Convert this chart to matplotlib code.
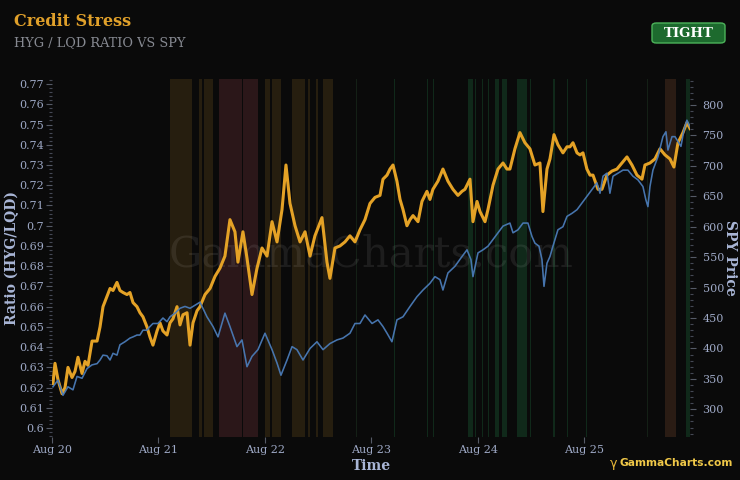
import matplotlib
matplotlib.use('Agg')
import matplotlib.pyplot as plt
from matplotlib.patches import FancyBboxPatch
from matplotlib.ticker import MultipleLocator, FuncFormatter

# ---------------- data (time in years since Aug 2020) ----------------
ratio_t = [0.009, 0.028, 0.056, 0.094, 0.122, 0.150, 0.188, 0.216, 0.244, 0.282,
           0.310, 0.338, 0.376, 0.423, 0.451, 0.479, 0.516, 0.545, 0.573, 0.610,
           0.638, 0.667, 0.704, 0.732, 0.761, 0.798, 0.826, 0.854, 0.892, 0.920,
           0.948, 0.986, 1.014, 1.042, 1.080, 1.108, 1.136, 1.174, 1.202, 1.230,
           1.268, 1.296, 1.324, 1.362, 1.390, 1.437, 1.484, 1.531, 1.577, 1.624,
           1.671, 1.718, 1.746, 1.793, 1.831, 1.878, 1.925, 1.972, 2.019, 2.066,
           2.113, 2.160, 2.197, 2.235, 2.282, 2.329, 2.376, 2.423, 2.469, 2.535,
           2.582, 2.610, 2.657, 2.704, 2.751, 2.798, 2.845, 2.892, 2.939, 2.986,
           3.033, 3.080, 3.108, 3.146, 3.174, 3.202, 3.239, 3.268, 3.296, 3.333,
           3.362, 3.390, 3.437, 3.474, 3.521, 3.549, 3.577, 3.624, 3.671, 3.718,
           3.765, 3.812, 3.850, 3.878, 3.925, 3.953, 3.991, 4.019, 4.066, 4.094,
           4.141, 4.188, 4.235, 4.272, 4.300, 4.347, 4.394, 4.441, 4.488, 4.535,
           4.582, 4.610, 4.648, 4.676, 4.714, 4.751, 4.798, 4.836, 4.864, 4.892,
           4.930, 4.958, 4.986, 5.023, 5.052, 5.080, 5.127, 5.164, 5.211, 5.258,
           5.305, 5.352, 5.399, 5.446, 5.493, 5.540, 5.568, 5.615, 5.662, 5.709,
           5.756, 5.803, 5.840, 5.878, 5.925, 5.962, 5.991]
ratio_v = [0.622, 0.632, 0.624, 0.617, 0.620, 0.630, 0.625, 0.628, 0.635, 0.627,
           0.633, 0.631, 0.643, 0.643, 0.650, 0.660, 0.665, 0.669, 0.668, 0.672,
           0.668, 0.667, 0.666, 0.667, 0.662, 0.660, 0.657, 0.655, 0.650, 0.645,
           0.641, 0.648, 0.652, 0.648, 0.646, 0.652, 0.654, 0.660, 0.651, 0.656,
           0.657, 0.641, 0.652, 0.658, 0.660, 0.666, 0.669, 0.675, 0.679, 0.685,
           0.703, 0.697, 0.682, 0.697, 0.684, 0.666, 0.679, 0.689, 0.685, 0.702,
           0.692, 0.708, 0.730, 0.711, 0.700, 0.692, 0.697, 0.685, 0.695, 0.704,
           0.682, 0.674, 0.689, 0.690, 0.692, 0.695, 0.692, 0.698, 0.703, 0.711,
           0.714, 0.715, 0.723, 0.725, 0.728, 0.730, 0.722, 0.713, 0.708, 0.700,
           0.703, 0.705, 0.702, 0.712, 0.717, 0.713, 0.718, 0.722, 0.728, 0.722,
           0.718, 0.715, 0.717, 0.718, 0.723, 0.702, 0.712, 0.707, 0.702, 0.708,
           0.720, 0.728, 0.731, 0.728, 0.728, 0.738, 0.746, 0.741, 0.738, 0.730,
           0.731, 0.707, 0.728, 0.733, 0.745, 0.740, 0.736, 0.739, 0.739, 0.741,
           0.736, 0.735, 0.736, 0.728, 0.725, 0.725, 0.718, 0.718, 0.725, 0.727,
           0.728, 0.731, 0.734, 0.730, 0.725, 0.723, 0.730, 0.731, 0.733, 0.738,
           0.735, 0.733, 0.729, 0.741, 0.746, 0.751, 0.748]

spy_t = [0.009, 0.056, 0.103, 0.150, 0.197, 0.235, 0.282, 0.329, 0.376, 0.423,
         0.451, 0.479, 0.516, 0.545, 0.573, 0.610, 0.638, 0.685, 0.732, 0.761,
         0.798, 0.826, 0.854, 0.892, 0.920, 0.948, 0.995, 1.042, 1.080, 1.108,
         1.155, 1.202, 1.249, 1.296, 1.343, 1.390, 1.455, 1.512, 1.559, 1.624,
         1.671, 1.737, 1.784, 1.831, 1.878, 1.934, 2.000, 2.066, 2.113, 2.150,
         2.207, 2.254, 2.300, 2.357, 2.423, 2.488, 2.545, 2.610, 2.676, 2.732,
         2.798, 2.845, 2.892, 2.939, 3.005, 3.061, 3.108, 3.146, 3.192, 3.239,
         3.296, 3.362, 3.427, 3.484, 3.549, 3.596, 3.643, 3.671, 3.718, 3.784,
         3.850, 3.897, 3.934, 3.953, 4.000, 4.047, 4.094, 4.141, 4.188, 4.235,
         4.300, 4.329, 4.376, 4.423, 4.469, 4.507, 4.535, 4.573, 4.601, 4.620,
         4.648, 4.676, 4.704, 4.751, 4.798, 4.836, 4.883, 4.930, 4.977, 5.023,
         5.070, 5.117, 5.146, 5.174, 5.211, 5.239, 5.268, 5.315, 5.362, 5.408,
         5.455, 5.502, 5.549, 5.577, 5.596, 5.615, 5.643, 5.690, 5.737, 5.765,
         5.784, 5.822, 5.850, 5.878, 5.906, 5.934, 5.962, 5.991]
spy_v = [337, 348, 323, 337, 332, 354, 351, 367, 373, 375,
         381, 389, 388, 381, 392, 389, 406, 411, 417, 419,
         422, 422, 430, 430, 436, 441, 441, 450, 444, 452,
         458, 466, 469, 466, 471, 476, 452, 436, 419, 458,
         436, 403, 414, 370, 387, 398, 425, 398, 376, 356,
         381, 403, 398, 381, 400, 411, 398, 408, 414, 417,
         425, 441, 441, 455, 441, 447, 436, 425, 411, 447,
         452, 469, 485, 496, 507, 518, 513, 496, 524, 535,
         551, 562, 546, 518, 557, 562, 568, 579, 590, 601,
         606, 590, 595, 606, 606, 584, 573, 568, 546, 502,
         540, 551, 568, 595, 600, 617, 622, 628, 639, 650,
         661, 672, 655, 683, 688, 655, 683, 688, 693, 693,
         683, 677, 666, 644, 633, 666, 693, 715, 748, 756,
         726, 748, 748, 740, 732, 759, 775, 764]

# regime bands: (start, end) in years since Aug 2020
caution_bands = [(1.108, 1.315), (1.380, 1.408), (1.427, 1.512), (2.000, 2.047),
                 (2.066, 2.150), (2.254, 2.376), (2.404, 2.423), (2.479, 2.498),
                 (2.545, 2.638)]
stress_bands = [(1.568, 1.784), (1.793, 1.934)]
tight_bands = [(3.211, 3.221), (3.521, 3.530), (3.577, 3.586), (3.906, 3.953),
               (3.972, 3.981), (4.038, 4.047), (4.094, 4.103), (4.160, 4.197),
               (4.225, 4.272), (4.366, 4.460), (4.488, 4.497), (4.704, 4.723),
               (4.836, 4.845), (5.014, 5.023), (5.953, 5.991)]
faint_bands = [(2.854, 2.860), (5.587, 5.592), (5.718, 5.723)]
late_caution_bands = [(5.756, 5.859)]

tick_labels = ['Aug 20', 'Aug 21', 'Aug 22', 'Aug 23', 'Aug 24', 'Aug 25']
status_label = 'TIGHT'

# ---------------- style ----------------
BG = '#0a0a0a'
ORANGE = '#e4a226'
BLUE = '#4a7bb7'
TICKC = '#9ea9c6'
LABELC = '#a9b6d6'
SERIF = 'DejaVu Serif'

fig = plt.figure(figsize=(7.4, 4.8), dpi=100, facecolor=BG)
ax = fig.add_axes([52 / 740, 43 / 480, 638 / 740, 358 / 480])
ax.set_facecolor(BG)
ax2 = ax.twinx()

for s0, s1 in caution_bands:
    ax.axvspan(s0, s1, color='#261e0f', lw=0, zorder=0)
for s0, s1 in stress_bands:
    ax.axvspan(s0, s1, color='#2b1719', lw=0, zorder=0)
for s0, s1 in tight_bands:
    ax.axvspan(s0, s1, color='#10291a', lw=0, zorder=0)
for s0, s1 in faint_bands:
    ax.axvspan(s0, s1, color='#142016', lw=0, zorder=0)
for s0, s1 in late_caution_bands:
    ax.axvspan(s0, s1, color='#2a1c14', lw=0, zorder=0)

ax.text(0.5, 0.51, 'GammaCharts.com', transform=ax.transAxes, ha='center',
        va='center', fontsize=30, family=SERIF, color='#ffffff', alpha=0.08,
        zorder=1)

ax.plot(ratio_t, ratio_v, color=ORANGE, lw=2.2, zorder=3, solid_joinstyle='round')
ax2.plot(spy_t, spy_v, color=BLUE, lw=1.15, alpha=0.95, zorder=4)

ax.set_xlim(0.0, 5.991)
ax.set_ylim(0.5956, 0.7725)
ax2.set_ylim(254.5, 842.7)

for a in (ax, ax2):
    for sp in a.spines.values():
        sp.set_visible(False)

ax.set_xticks(range(len(tick_labels)))
ax.set_xticklabels(tick_labels)
ax.yaxis.set_major_locator(MultipleLocator(0.01))
ax.yaxis.set_minor_locator(MultipleLocator(0.002))
ax.yaxis.set_major_formatter(FuncFormatter(lambda v, p: (f'{v:.2f}').rstrip('0')))
ax2.yaxis.set_major_locator(MultipleLocator(50))
ax2.yaxis.set_minor_locator(MultipleLocator(10))

ax.tick_params(axis='x', colors='#555a66', labelcolor=TICKC, length=4, width=0.8,
               labelsize=8, pad=2)
ax.tick_params(axis='y', which='major', colors='#555a66', labelcolor=TICKC,
               length=4, width=0.8, labelsize=8, pad=2)
ax.tick_params(axis='y', which='minor', colors='#444854', length=2, width=0.8)
ax2.tick_params(axis='y', which='major', colors='#555a66', labelcolor=TICKC,
                length=4, width=0.8, labelsize=8, pad=5)
ax2.tick_params(axis='y', which='minor', colors='#444854', length=2, width=0.8)
for lab in ax.get_xticklabels() + ax.get_yticklabels() + ax2.get_yticklabels():
    lab.set_family(SERIF)

fig.text(12 / 740, 1 - 258 / 480, 'Ratio (HYG/LQD)', rotation=90, ha='center',
         va='center', color=LABELC, fontsize=10, fontweight='bold', family=SERIF)
fig.text(730 / 740, 1 - 258 / 480, 'SPY Price', rotation=270, ha='center',
         va='center', color=LABELC, fontsize=10, fontweight='bold', family=SERIF)
fig.text(371 / 740, 1 - 466 / 480, 'Time', ha='center', va='center',
         color=LABELC, fontsize=10, fontweight='bold', family=SERIF)

# header
fig.text(14 / 740, 1 - 22 / 480, 'Credit Stress', ha='left', va='center',
         color='#e0a02a', fontsize=11.5, fontweight='bold', family=SERIF)
fig.text(14 / 740, 1 - 43 / 480, 'HYG / LQD RATIO VS SPY', ha='left', va='center',
         color='#868991', fontsize=9.3, family=SERIF)

badge = FancyBboxPatch((652 / 740, 1 - 43 / 480), 73 / 740, 20 / 480,
                       boxstyle='round,pad=0,rounding_size=0.006',
                       transform=fig.transFigure, facecolor='#1d6a2e',
                       edgecolor='#4cb35a', lw=1.0)
fig.patches.append(badge)
fig.text(688.5 / 740, 1 - 33.5 / 480, status_label, ha='center', va='center',
         color='#ffffff', fontsize=9.5, fontweight='bold', family=SERIF)

# logo
fig.text(610 / 740, 1 - 463 / 480, 'γ', ha='left', va='center', color='#e8b838',
         fontsize=9, family='DejaVu Sans')
fig.text(619 / 740, 1 - 463 / 480, 'GammaCharts.com', ha='left', va='center',
         color='#f0c848', fontsize=7.7, fontweight='bold', family='DejaVu Sans')

fig.savefig('out.png', dpi=100, facecolor=BG)
